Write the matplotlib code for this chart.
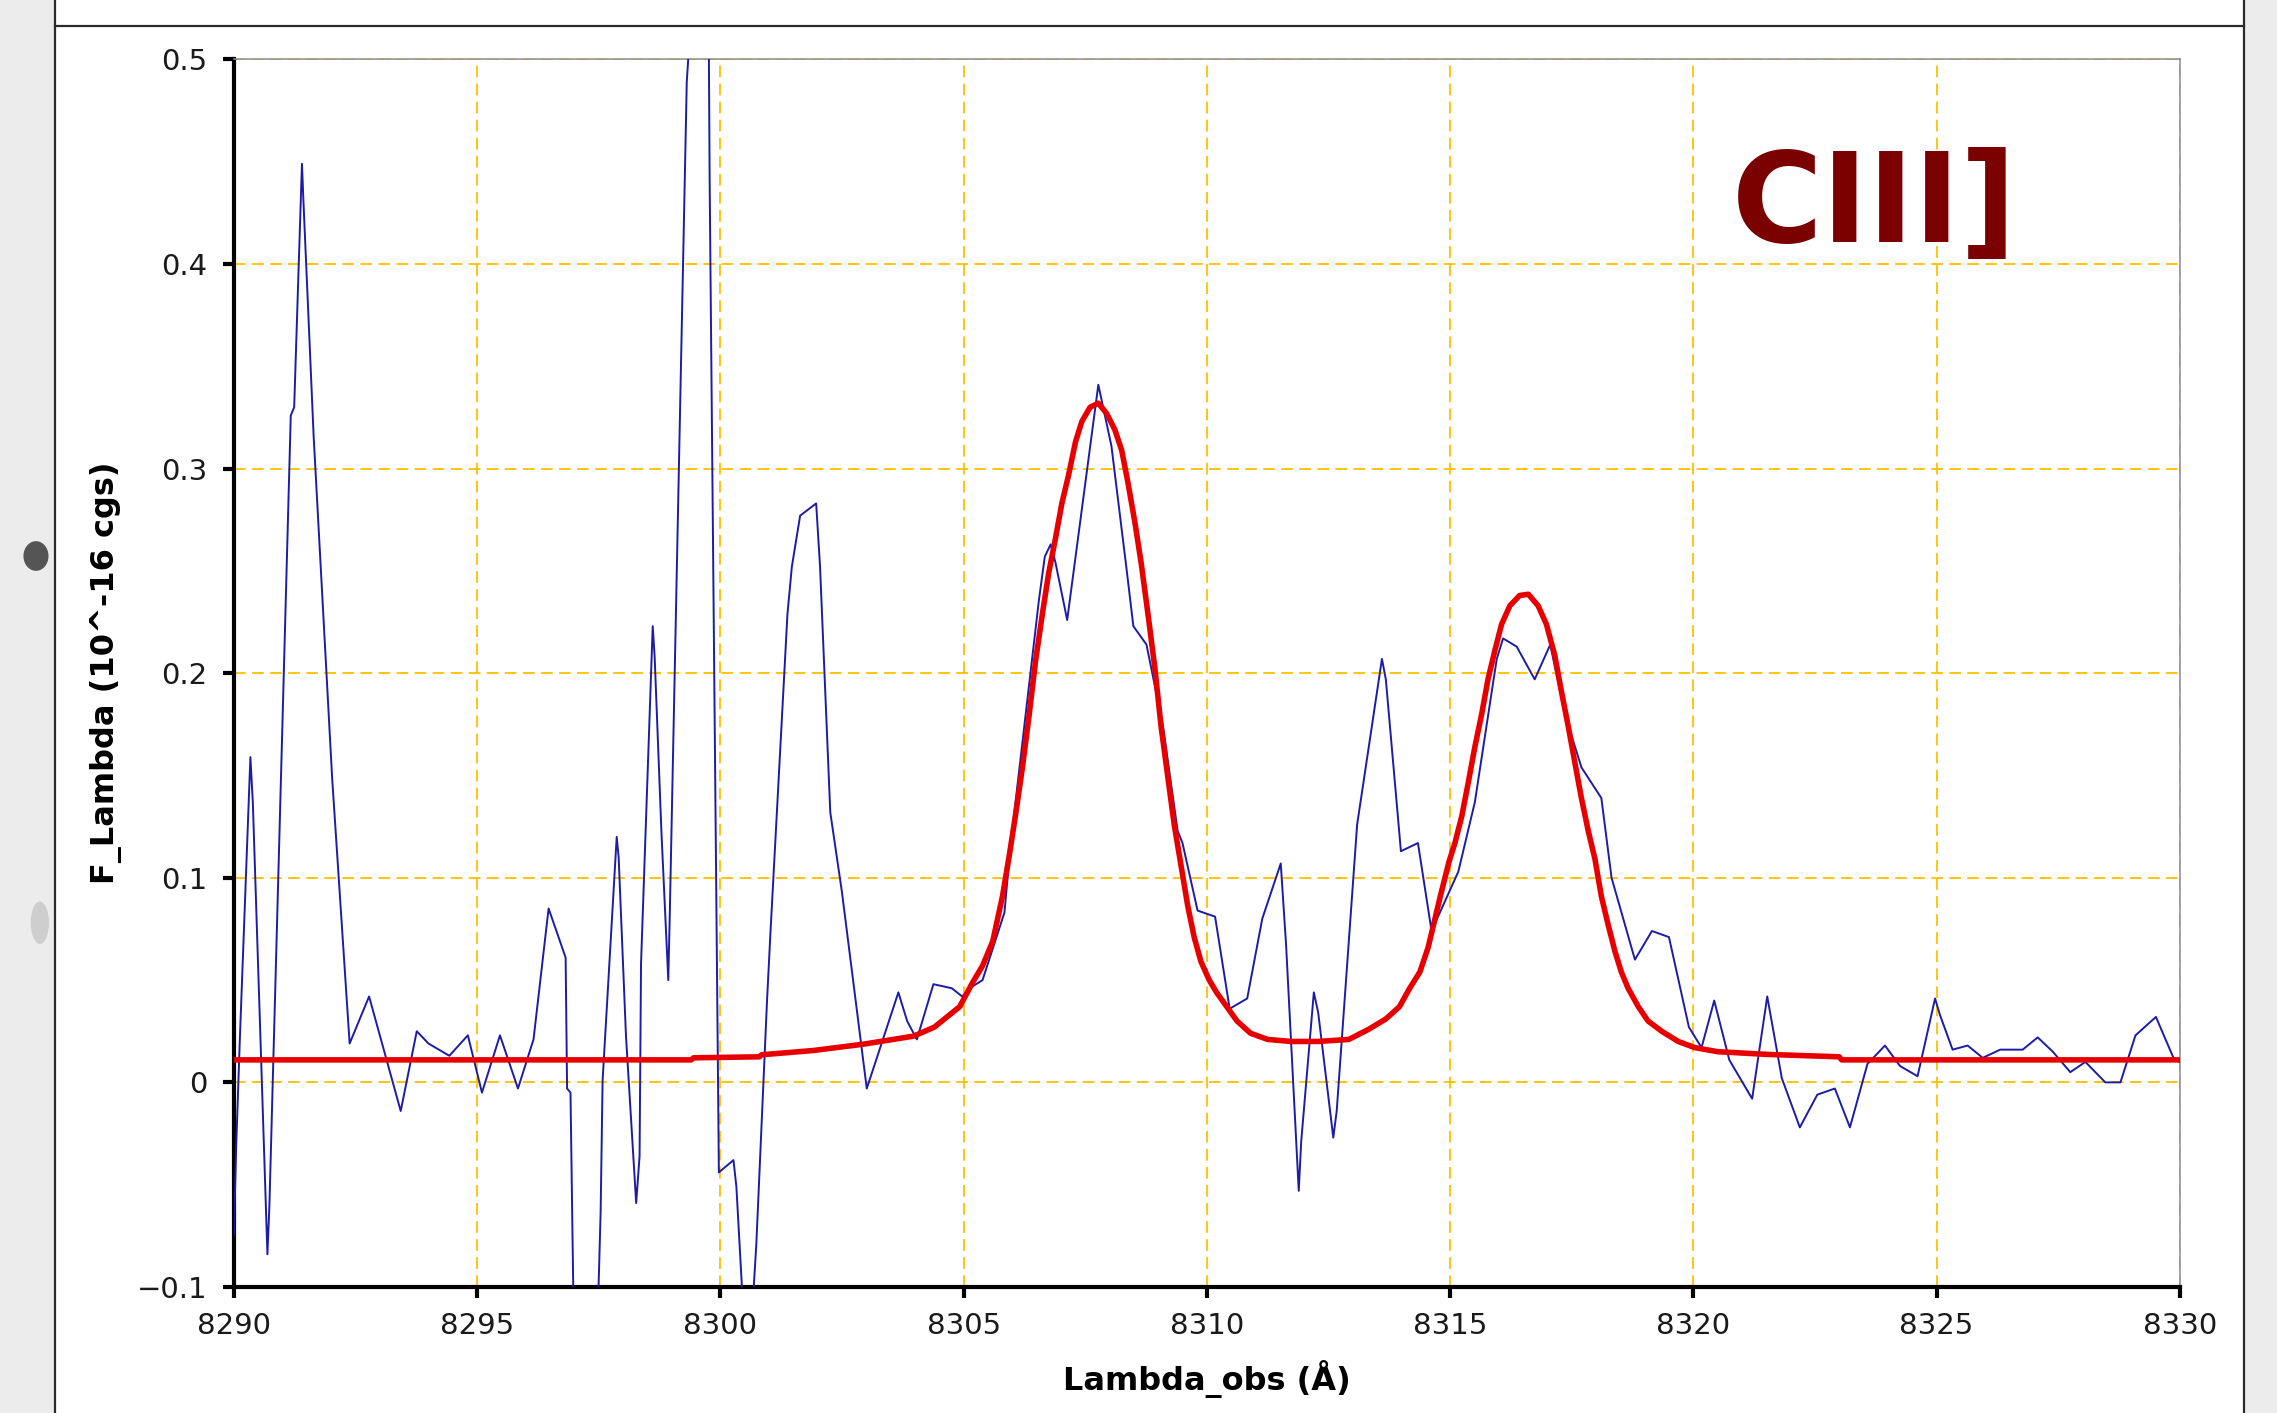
import matplotlib
matplotlib.use('Agg')
import matplotlib.pyplot as plt
from matplotlib.patches import Rectangle, Ellipse
from matplotlib.lines import Line2D

plt.rc('font', family='DejaVu Sans')

wave_obs = [8290.00, 8290.05, 8290.12, 8290.34, 8290.39, 8290.69, 8290.73, 8291.17,
            8291.24, 8291.40, 8291.43, 8291.64, 8292.02, 8292.38, 8292.78, 8293.43,
            8293.76, 8294.00, 8294.43, 8294.81, 8295.10, 8295.47, 8295.84, 8296.16,
            8296.47, 8296.82, 8296.85, 8296.92, 8297.00, 8297.45, 8297.54, 8297.58,
            8297.87, 8297.91, 8298.06, 8298.27, 8298.34, 8298.37, 8298.61, 8298.65,
            8298.79, 8298.93, 8298.96, 8299.31, 8299.42, 8299.745, 8299.78, 8299.97,
            8300.27, 8300.33, 8300.56, 8300.74, 8300.96, 8301.03, 8301.38, 8301.47,
            8301.64, 8301.97, 8302.05, 8302.26, 8302.50, 8303.01, 8303.66, 8303.84,
            8304.04, 8304.38, 8304.76, 8304.97, 8305.19, 8305.39, 8305.84, 8305.97,
            8306.55, 8306.67, 8306.79, 8306.89, 8307.13, 8307.77, 8308.04, 8308.35,
            8308.49, 8308.76, 8309.10, 8309.40, 8309.50, 8309.81, 8310.17, 8310.47,
            8310.83, 8311.14, 8311.52, 8311.63, 8311.89, 8311.94, 8312.20, 8312.29,
            8312.60, 8312.67, 8313.09, 8313.60, 8313.68, 8313.99, 8314.34, 8314.62,
            8315.17, 8315.51, 8315.96, 8316.09, 8316.37, 8316.74, 8317.06, 8317.36,
            8317.70, 8318.11, 8318.32, 8318.80, 8319.15, 8319.50, 8319.91, 8320.17,
            8320.43, 8320.74, 8321.21, 8321.52, 8321.82, 8322.19, 8322.55, 8322.91,
            8323.22, 8323.58, 8323.94, 8324.25, 8324.61, 8324.97, 8325.07, 8325.33,
            8325.64, 8325.95, 8326.31, 8326.77, 8327.08, 8327.39, 8327.75, 8328.06,
            8328.47, 8328.78, 8329.09, 8329.51, 8329.87, 8330.00]
flux_obs = [-0.075, -0.030, 0.019, 0.159, 0.137, -0.084, -0.061, 0.326,
            0.330, 0.449, 0.431, 0.316, 0.149, 0.019, 0.042, -0.014,
            0.025, 0.019, 0.013, 0.023, -0.005, 0.023, -0.003, 0.021,
            0.085, 0.061, -0.003, -0.005, -0.140, -0.140, -0.063, 0.001,
            0.120, 0.110, 0.023, -0.059, -0.036, 0.058, 0.223, 0.208,
            0.122, 0.050, 0.081, 0.489, 0.530, 0.580, 0.442, -0.044,
            -0.038, -0.051, -0.150, -0.079, 0.040, 0.073, 0.229, 0.252,
            0.277, 0.283, 0.252, 0.132, 0.093, -0.003, 0.044, 0.030,
            0.021, 0.048, 0.046, 0.042, 0.047, 0.050, 0.083, 0.117,
            0.236, 0.257, 0.263, 0.254, 0.226, 0.341, 0.311, 0.251,
            0.223, 0.214, 0.174, 0.123, 0.117, 0.084, 0.081, 0.036,
            0.041, 0.080, 0.107, 0.067, -0.053, -0.029, 0.044, 0.034,
            -0.027, -0.014, 0.126, 0.207, 0.197, 0.113, 0.117, 0.074,
            0.103, 0.137, 0.207, 0.217, 0.213, 0.197, 0.214, 0.180,
            0.154, 0.139, 0.100, 0.060, 0.074, 0.071, 0.027, 0.017,
            0.040, 0.011, -0.008, 0.042, 0.002, -0.022, -0.006, -0.003,
            -0.022, 0.009, 0.018, 0.008, 0.003, 0.041, 0.033, 0.016,
            0.018, 0.012, 0.016, 0.016, 0.022, 0.015, 0.005, 0.010,
            0.000, 0.000, 0.023, 0.032, 0.012, 0.010]

# fitted model (red)
wave_fit = [8290.00, 8299.40, 8299.45, 8300.80, 8300.85, 8301.92, 8302.95, 8303.97,
            8304.40, 8304.66, 8304.92, 8305.19, 8305.39, 8305.60, 8305.80, 8305.94,
            8306.07, 8306.21, 8306.35, 8306.48, 8306.62, 8306.75, 8306.89, 8307.02,
            8307.16, 8307.30, 8307.43, 8307.60, 8307.77, 8307.94, 8308.11, 8308.25,
            8308.38, 8308.52, 8308.65, 8308.79, 8308.93, 8309.06, 8309.20, 8309.33,
            8309.47, 8309.61, 8309.74, 8309.88, 8310.05, 8310.20, 8310.41, 8310.62,
            8310.90, 8311.25, 8311.73, 8312.29, 8312.92, 8313.33, 8313.68, 8313.96,
            8314.17, 8314.38, 8314.55, 8314.66, 8314.80, 8314.98, 8315.10, 8315.24,
            8315.37, 8315.51, 8315.65, 8315.78, 8315.92, 8316.06, 8316.23, 8316.43,
            8316.61, 8316.81, 8316.98, 8317.15, 8317.29, 8317.43, 8317.56, 8317.70,
            8317.84, 8317.98, 8318.11, 8318.25, 8318.39, 8318.52, 8318.66, 8318.87,
            8319.07, 8319.35, 8319.69, 8320.03, 8320.50, 8321.50, 8323.00, 8323.05,
            8330.00]
flux_fit = [0.0110, 0.0110, 0.0120, 0.0125, 0.0135, 0.0156, 0.0187, 0.0226,
            0.027, 0.032, 0.037, 0.049, 0.057, 0.069, 0.091, 0.111,
            0.131, 0.154, 0.180, 0.206, 0.229, 0.249, 0.266, 0.283,
            0.297, 0.313, 0.323, 0.330, 0.332, 0.327, 0.319, 0.309,
            0.293, 0.274, 0.254, 0.229, 0.203, 0.174, 0.149, 0.126,
            0.106, 0.086, 0.071, 0.059, 0.050, 0.044, 0.037, 0.030,
            0.024, 0.021, 0.020, 0.020, 0.021, 0.026, 0.031, 0.037,
            0.046, 0.054, 0.066, 0.077, 0.091, 0.108, 0.117, 0.130,
            0.146, 0.164, 0.180, 0.197, 0.211, 0.224, 0.233, 0.238,
            0.2386, 0.233, 0.224, 0.209, 0.191, 0.174, 0.157, 0.139,
            0.123, 0.109, 0.091, 0.077, 0.064, 0.054, 0.046, 0.037,
            0.030, 0.025, 0.020, 0.017, 0.015, 0.0137, 0.0125, 0.0110,
            0.0110]

x_ticks = [8290, 8295, 8300, 8305, 8310, 8315, 8320, 8325, 8330]
x_labels = ['8290', '8295', '8300', '8305', '8310', '8315', '8320', '8325', '8330']
y_ticks = [-0.1, 0, 0.1, 0.2, 0.3, 0.4, 0.5]
y_labels = ['\u22120.1', '0', '0.1', '0.2', '0.3', '0.4', '0.5']

fig = plt.figure(figsize=(22.77, 14.13), dpi=100, facecolor='#ececec')

# white panel with its frame lines
fig.add_artist(Rectangle((0.0242, 0), 0.9613, 1, transform=fig.transFigure,
                         facecolor='white', edgecolor='none', zorder=0))
for xs, ys in [([0.0242, 0.0242], [0, 1]), ([0.9855, 0.9855], [0, 1]),
               ([0.0242, 0.9855], [0.9816, 0.9816])]:
    fig.add_artist(Line2D(xs, ys, transform=fig.transFigure, color='#2b2b2b', lw=1.6))

# smudges in the scanned margin
fig.add_artist(Ellipse((0.0158, 0.6065), 0.011, 0.021, transform=fig.transFigure,
                       facecolor='#3a3a3a', edgecolor='none', alpha=0.85))
fig.add_artist(Ellipse((0.0175, 0.347), 0.008, 0.03, transform=fig.transFigure,
                       facecolor='#bbbbbb', edgecolor='none', alpha=0.6))

ax = fig.add_axes([0.1027, 0.0892, 0.8546, 0.8687])

ax.plot(wave_obs, flux_obs, color='#1c1ca6', lw=1.4, zorder=3)
ax.plot(wave_fit, flux_fit, color='#e80000', lw=4, zorder=4,
        solid_joinstyle='round', solid_capstyle='round')

ax.set_xlim(8290, 8330)
ax.set_ylim(-0.1, 0.5)
ax.set_xticks(x_ticks)
ax.set_xticklabels(x_labels)
ax.set_yticks(y_ticks)
ax.set_yticklabels(y_labels)

ax.grid(True, color='#ffc000', linestyle=(0, (6.5, 3.5)), linewidth=1.3, zorder=1)
ax.set_axisbelow(True)

for side in ['left', 'bottom']:
    ax.spines[side].set_linewidth(3)
    ax.spines[side].set_color('black')
for side in ['top', 'right']:
    ax.spines[side].set_linewidth(1.1)
    ax.spines[side].set_color('#8c8c8c')

ax.tick_params(axis='both', direction='out', length=8, width=3, color='black',
               labelsize=21, labelcolor='#1a1a1a')
ax.tick_params(axis='x', pad=10)
ax.tick_params(axis='y', pad=11)

ax.set_xlabel('Lambda_obs (\u00c5)', fontsize=23, fontweight='bold')
ax.xaxis.set_label_coords(0.5, -0.0747)
ax.xaxis.label.set_va('center')
ax.set_ylabel('F_Lambda (10^-16 cgs)', fontsize=23, fontweight='bold')
ax.yaxis.set_label_coords(-0.0657, 0.5)
ax.yaxis.label.set_va('center')

ax.text(8320.8, 0.411, 'CIII]', color='#7b0000', fontsize=89,
        fontweight='bold', ha='left', va='baseline')

fig.savefig('out.png', dpi=100, facecolor=fig.get_facecolor())
